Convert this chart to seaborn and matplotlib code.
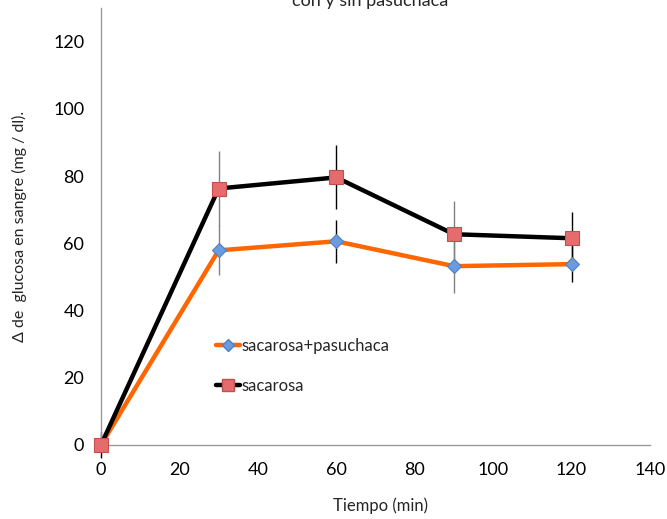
import matplotlib
matplotlib.use("Agg")
import matplotlib.pyplot as plt
import seaborn as sns
import pandas as pd
from matplotlib.lines import Line2D

# Glucose increase over time, with and without pasuchaca
tiempo = [0, 30, 60, 90, 120]
sacarosa_pasuchaca = [0.0, 57.9, 60.6, 53.2, 53.8]
sacarosa = [0.0, 76.3, 79.6, 62.7, 61.5]
err_pasuchaca = [0.0, 7.4, 6.4, 8.1, 5.4]
err_sacarosa = [4.0, 11.3, 9.5, 10.0, 7.7]
err_colors = ["#000000", "#808080", "#000000", "#808080", "#000000"]
series_names = ["sacarosa+pasuchaca", "sacarosa"]
x_ticks = [0, 20, 40, 60, 80, 100, 120, 140]
y_ticks = [0, 20, 40, 60, 80, 100, 120]

sns.set_theme(style="white")
plt.rcParams["font.family"] = ["Lato", "DejaVu Sans"]

df = pd.DataFrame({
    "Tiempo": tiempo * 2,
    "Glucosa": sacarosa_pasuchaca + sacarosa,
    "Serie": [series_names[0]] * len(tiempo) + [series_names[1]] * len(tiempo),
})

fig = plt.figure(figsize=(6.67, 5.19), dpi=100)
ax = fig.add_axes([0.1514, 0.1426, 0.8231, 0.842])

# error bars behind the lines
for i, t in enumerate(tiempo):
    for vals, errs in ((sacarosa, err_sacarosa), (sacarosa_pasuchaca, err_pasuchaca)):
        if errs[i] > 0:
            ax.errorbar([t], [vals[i]], yerr=[errs[i]], fmt="none",
                        ecolor=err_colors[i], elinewidth=1.0, capsize=0,
                        zorder=1, clip_on=False)

palette = {series_names[0]: "#FF6600", series_names[1]: "#000000"}
sns.lineplot(data=df, x="Tiempo", y="Glucosa", hue="Serie", style="Serie",
             palette=palette, markers={series_names[0]: "D", series_names[1]: "s"},
             dashes=False, linewidth=3.2, ax=ax, legend=False, zorder=3)

lines = ax.get_lines()[-2:]
for ln in lines:
    ln.set_clip_on(False)
orange, black = lines
orange.set_markersize(7)
orange.set_markerfacecolor("#6A9AE0")
orange.set_markeredgecolor("#4F81BD")
orange.set_markeredgewidth(0.8)
orange.set_zorder(3)
black.set_markersize(9.5)
black.set_markerfacecolor("#E46C6C")
black.set_markeredgecolor("#C0504D")
black.set_markeredgewidth(0.8)
black.set_zorder(4)

ax.set_xlim(0, 140)
ax.set_ylim(0, 130)
ax.set_xticks(x_ticks)
ax.set_yticks(y_ticks)
ax.tick_params(axis="both", labelsize=13, colors="#000000", pad=7)
ax.tick_params(axis="both", which="major", direction="out", length=5,
               color="#9A9A9A", width=1)
for side in ("top", "right"):
    ax.spines[side].set_visible(False)
for side in ("left", "bottom"):
    ax.spines[side].set_color("#9A9A9A")
    ax.spines[side].set_linewidth(1)

ax.set_xlabel("Tiempo (min)", fontsize=12)
ax.set_ylabel("Δ de  glucosa en sangre (mg / dl).", fontsize=11.5)
ax.xaxis.set_label_coords(0.51, -0.12)
ax.yaxis.set_label_coords(-0.135, 0.5)

fig.text(0.555, 0.998, "con y sin pasuchaca", ha="center", va="center",
         fontsize=13)

# legend
handles = [
    Line2D([], [], color="#FF6600", lw=3.2, marker="D", markersize=6,
           markerfacecolor="#6A9AE0", markeredgecolor="#4F81BD"),
    Line2D([], [], color="#000000", lw=3.2, marker="s", markersize=8,
           markerfacecolor="#E46C6C", markeredgecolor="#C0504D"),
]
ax.legend(handles, series_names, loc="upper left", bbox_to_anchor=(0.198, 0.26),
          frameon=False, fontsize=12, handlelength=1.4, handletextpad=0.1,
          labelspacing=1.45, borderaxespad=0)

fig.savefig("out.png", dpi=100)
